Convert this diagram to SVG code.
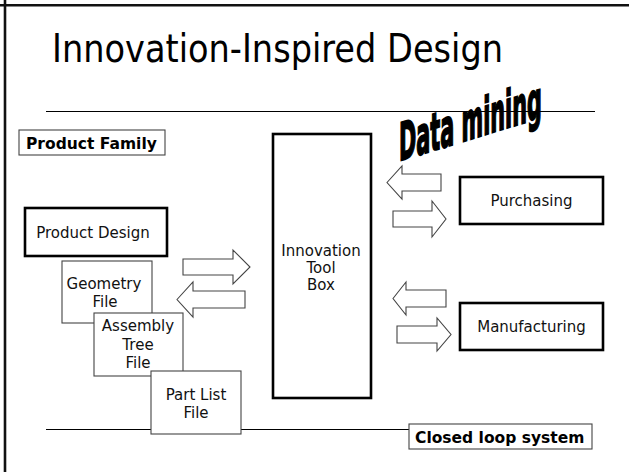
<svg xmlns="http://www.w3.org/2000/svg" width="629" height="472" viewBox="0 0 629 472">
  <style>
    .lbl { font-family: "DejaVu Sans", Verdana, sans-serif; font-size: 15px; fill: #111; }
    .tag { font-family: "DejaVu Sans", Verdana, sans-serif; font-size: 15.5px; font-weight: bold; fill: #000; }
    .thick { fill: #fff; stroke: #000; stroke-width: 2.6; }
    .thin { fill: #fff; stroke: #444; stroke-width: 1.1; }
    .arrow { fill: #fff; stroke: #444; stroke-width: 1.1; stroke-linejoin: miter; }
    .rule { stroke: #000; stroke-width: 1.2; fill: none; }
  </style>

  <rect width="629" height="472" fill="#fff"/>

  <!-- slide frame (top and left edges) -->
  <line x1="0" y1="5.2" x2="629" y2="5.2" stroke="#111" stroke-width="2.6"/>
  <line x1="5" y1="0" x2="5" y2="472" stroke="#111" stroke-width="2.6"/>

  <!-- title -->
  <text x="52" y="62" font-family="DejaVu Sans, Verdana, sans-serif" font-size="38.5" fill="#000" textLength="451" lengthAdjust="spacingAndGlyphs">Innovation-Inspired Design</text>

  <!-- rules -->
  <line class="rule" x1="46" y1="111.5" x2="595" y2="111.5"/>
  <line class="rule" x1="46" y1="429.5" x2="409" y2="429.5"/>

  <!-- slanted heading: condensed heavy type on a rising baseline -->
  <text transform="translate(399,161) skewY(-17) scale(0.4,1)" x="0" y="0" font-family="DejaVu Sans, sans-serif" font-size="52" font-weight="bold" fill="#000" stroke="#000" stroke-width="1.6" vector-effect="non-scaling-stroke">Data mining</text>

  <g id="product-family">
    <rect class="thin" x="19" y="130" width="146" height="25"/>
    <text class="tag" x="26" y="149">Product Family</text>
  </g>

  <g id="product-design">
    <rect class="thick" x="25" y="208" width="142" height="48"/>
    <text class="lbl" x="93" y="238" text-anchor="middle">Product Design</text>
  </g>

  <g id="geometry-file">
    <rect class="thin" x="62" y="261" width="90" height="62"/>
    <text class="lbl" x="104" y="289" text-anchor="middle">Geometry</text>
    <text class="lbl" x="105" y="307" text-anchor="middle">File</text>
  </g>

  <g id="assembly-tree-file">
    <rect class="thin" x="94" y="313" width="89" height="63"/>
    <text class="lbl" x="138" y="331" text-anchor="middle">Assembly</text>
    <text class="lbl" x="138" y="350" text-anchor="middle">Tree</text>
    <text class="lbl" x="138" y="368" text-anchor="middle">File</text>
  </g>

  <g id="part-list-file">
    <rect class="thin" x="151" y="371" width="90" height="63"/>
    <text class="lbl" x="196" y="400" text-anchor="middle">Part List</text>
    <text class="lbl" x="196" y="418" text-anchor="middle">File</text>
  </g>

  <g id="innovation-tool-box">
    <rect class="thick" x="273" y="134" width="98" height="264"/>
    <text class="lbl" x="321" y="256" text-anchor="middle">Innovation</text>
    <text class="lbl" x="321" y="273" text-anchor="middle">Tool</text>
    <text class="lbl" x="321" y="290" text-anchor="middle">Box</text>
  </g>

  <g id="purchasing">
    <rect class="thick" x="460" y="177" width="143" height="47"/>
    <text class="lbl" x="531.5" y="206" text-anchor="middle">Purchasing</text>
  </g>

  <g id="manufacturing">
    <rect class="thick" x="460" y="303" width="143" height="47"/>
    <text class="lbl" x="531.5" y="332" text-anchor="middle">Manufacturing</text>
  </g>

  <g id="closed-loop-system">
    <rect class="thin" x="409" y="424" width="183" height="25"/>
    <text class="tag" x="415" y="443">Closed loop system</text>
  </g>

  <g id="connectors">
    <!-- design files <-> tool box -->
    <polygon class="arrow" points="183,259 233,259 233,250 250,267 233,284 233,275 183,275"/>
    <polygon class="arrow" points="177,299.5 193,282 193,291 245,291 245,308 193,308 193,317"/>
    <!-- tool box <-> purchasing -->
    <polygon class="arrow" points="387,182.5 402,166 402,174 441,174 441,191 402,191 402,199"/>
    <polygon class="arrow" points="393,211 432,211 432,201 446,219 432,237 432,227 393,227"/>
    <!-- tool box <-> manufacturing -->
    <polygon class="arrow" points="393,298.5 406,282 406,290 446,290 446,307 406,307 406,315"/>
    <polygon class="arrow" points="397,326 437,326 437,318 451,334.5 437,351 437,343 397,343"/>
  </g>
</svg>
